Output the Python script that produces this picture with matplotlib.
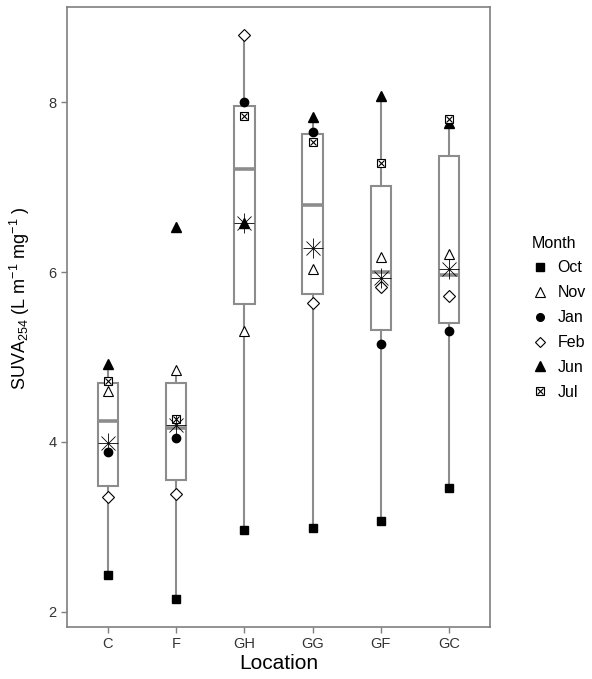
import numpy as np
import matplotlib
matplotlib.use('Agg')
import matplotlib.pyplot as plt
from matplotlib.lines import Line2D

# ----------------
# data
# ----------------
locations = ['C', 'F', 'GH', 'GG', 'GF', 'GC']
months = ['Oct', 'Nov', 'Jan', 'Feb', 'Jun', 'Jul']

# SUVA254 per location, one list per month (same order as locations)
oct_vals = [2.43, 2.15, 2.96, 2.98, 3.07, 3.46]
nov_vals = [4.60, 4.84, 5.30, 6.04, 6.18, 6.21]
jan_vals = [3.88, 4.05, 8.00, 7.65, 5.15, 5.30]
feb_vals = [3.35, 3.38, 8.79, 5.64, 5.82, 5.72]
jun_vals = [4.92, 6.53, 6.58, 7.83, 8.07, 7.75]
jul_vals = [4.72, 4.27, 7.84, 7.53, 7.29, 7.80]

series = [oct_vals, nov_vals, jan_vals, feb_vals, jun_vals, jul_vals]

# ----------------
# style
# ----------------
plt.rcParams['font.family'] = ['Liberation Sans', 'DejaVu Sans']
plt.rcParams['mathtext.fontset'] = 'custom'
plt.rcParams['mathtext.rm'] = 'Liberation Sans'
plt.rcParams['mathtext.it'] = 'Liberation Sans'
plt.rcParams['mathtext.default'] = 'regular'

box_col = '#8c8c8c'
frame_col = '#7f7f7f'

fig = plt.figure(figsize=(5.92, 6.79), dpi=100)
ax = fig.add_axes([0.1132, 0.0766, 0.7145, 0.9131])

data = np.array(series)          # months x locations
pos = np.arange(len(locations))

bp = ax.boxplot([data[:, i] for i in range(len(locations))], positions=pos,
                widths=0.3, whis=1.5, showfliers=False, showcaps=False,
                patch_artist=True, zorder=1)
for b in bp['boxes']:
    b.set(facecolor='white', edgecolor=box_col, linewidth=1.5)
for w in bp['whiskers']:
    w.set(color=box_col, linewidth=1.5)
for m in bp['medians']:
    m.set(color=box_col, linewidth=2.6)

# points per month
ms = dict(linestyle='none', color='black', zorder=3)
ax.plot(pos, oct_vals, marker='s', markersize=6, **ms)
ax.plot(pos, nov_vals, marker='^', markersize=7.5, markerfacecolor='white',
        markeredgewidth=0.8, **ms)
ax.plot(pos, jan_vals, marker='o', markersize=6, **ms)
ax.plot(pos, feb_vals, marker='D', markersize=6, markerfacecolor='white',
        markeredgewidth=0.8, **ms)
ax.plot(pos, jun_vals, marker='^', markersize=7.5, **ms)
ax.plot(pos, jul_vals, marker='s', markersize=6, markerfacecolor='white',
        markeredgewidth=0.8, **ms)
ax.plot(pos, jul_vals, marker='x', markersize=4.5, markeredgewidth=0.8, **ms)

# mean as asterisk
means = data.mean(axis=0)
ax.plot(pos, means, marker='+', markersize=14, markeredgewidth=0.6,
        linestyle='none', color='black', zorder=4)
ax.plot(pos, means, marker='x', markersize=10, markeredgewidth=0.6,
        linestyle='none', color='black', zorder=4)

# axes
lo, hi = data.min(), data.max()
pad = (hi - lo) * 0.05
ax.set_ylim(lo - pad, hi + pad)
ax.set_xlim(-0.6, len(locations) - 0.4)
ax.set_xticks(pos)
ax.set_xticklabels(locations)
ax.set_yticks([2, 4, 6, 8])
ax.tick_params(axis='both', colors=frame_col, length=4, width=1,
               labelcolor='#333333', labelsize=10.5)
for s in ax.spines.values():
    s.set_color(frame_col)
    s.set_linewidth(1.2)

ax.set_xlabel('Location', fontsize=15, labelpad=2)
ax.set_ylabel('SUVA$_{254}$ (L m$^{-1}$ mg$^{-1}$ )', fontsize=13)
ax.yaxis.set_label_coords(-0.082, 0.53)

# legend
lk = dict(linestyle='none', color='black')
handles = [
    Line2D([], [], marker='s', markersize=5.5, **lk),
    Line2D([], [], marker='^', markersize=7, markerfacecolor='white', markeredgewidth=0.8, **lk),
    Line2D([], [], marker='o', markersize=5.5, **lk),
    Line2D([], [], marker='D', markersize=5.5, markerfacecolor='white', markeredgewidth=0.8, **lk),
    Line2D([], [], marker='^', markersize=7, **lk),
    (Line2D([], [], marker='s', markersize=5.5, markerfacecolor='white', markeredgewidth=0.8, **lk),
     Line2D([], [], marker='x', markersize=4, markeredgewidth=0.8, **lk)),
]
leg = fig.legend(handles, months, title='Month', loc='center left',
                 bbox_to_anchor=(0.885, 0.532), frameon=False, fontsize=11.5,
                 title_fontsize=11.5, handlelength=1.0, handletextpad=0.6,
                 labelspacing=0.62, borderpad=0)
leg._legend_box.align = 'left'

fig.savefig('out.png', dpi=100)
